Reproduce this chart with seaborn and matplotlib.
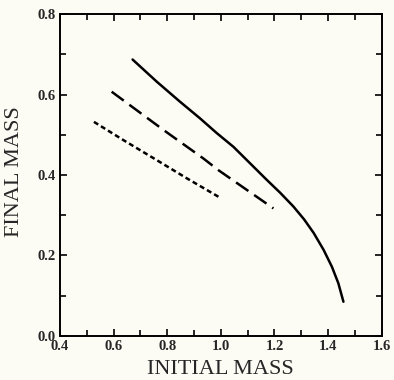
import matplotlib
matplotlib.use("Agg")
import matplotlib.pyplot as plt
import seaborn as sns
from matplotlib.ticker import MultipleLocator, FormatStrFormatter

sns.set_theme(style="ticks")
plt.rcParams['font.family'] = ['Liberation Serif', 'DejaVu Serif']

# solid curve
solid_x = [0.671, 0.761, 0.848, 0.922, 0.985, 1.047, 1.171, 1.221, 1.270, 1.310, 1.346, 1.383, 1.414, 1.438, 1.457]
solid_y = [0.687, 0.632, 0.582, 0.541, 0.504, 0.470, 0.388, 0.356, 0.322, 0.290, 0.256, 0.214, 0.172, 0.131, 0.085]

# long dashed curve
dash_x = [0.593, 0.786, 0.935, 0.991, 1.196]
dash_y = [0.607, 0.512, 0.441, 0.412, 0.317]

# short dashed curve
dot_x = [0.527, 0.636, 0.761, 0.870, 0.991]
dot_y = [0.532, 0.487, 0.437, 0.393, 0.346]

bg = '#fcfbf4'
fig = plt.figure(figsize=(3.94, 3.80), dpi=100, facecolor=bg)
ax = fig.add_axes([0.152, 0.116, 0.817, 0.847], facecolor=bg)

sns.lineplot(x=solid_x, y=solid_y, ax=ax, color='black', lw=1.8, sort=False)
sns.lineplot(x=dash_x, y=dash_y, ax=ax, color='black', lw=1.8, sort=False,
             linestyle=(0, (6, 2.8)))
sns.lineplot(x=dot_x, y=dot_y, ax=ax, color='black', lw=1.8, sort=False,
             linestyle=(0, (2, 1.3)))

ax.set_xlim(0.4, 1.6)
ax.set_ylim(0.0, 0.8)
ax.xaxis.set_major_locator(MultipleLocator(0.2))
ax.xaxis.set_minor_locator(MultipleLocator(0.1))
ax.yaxis.set_major_locator(MultipleLocator(0.2))
ax.yaxis.set_minor_locator(MultipleLocator(0.1))
ax.xaxis.set_major_formatter(FormatStrFormatter('%.1f'))
ax.yaxis.set_major_formatter(FormatStrFormatter('%.1f'))
ax.tick_params(which='both', direction='in', top=True, right=True, color='black', width=1.2,
               labelsize=10.5, pad=3)
ax.tick_params(which='major', length=5)
ax.tick_params(which='minor', length=4)
for lab in ax.get_xticklabels() + ax.get_yticklabels():
    lab.set_fontweight('bold')
for s in ax.spines.values():
    s.set_color('black')
    s.set_linewidth(1.4)

ax.set_xlabel('INITIAL MASS', fontsize=16)
ax.set_ylabel('FINAL MASS', fontsize=16)
ax.xaxis.set_label_coords(0.5, -0.075)
ax.yaxis.set_label_coords(-0.11, 0.51)

fig.savefig('out.png', dpi=100, facecolor=bg)
